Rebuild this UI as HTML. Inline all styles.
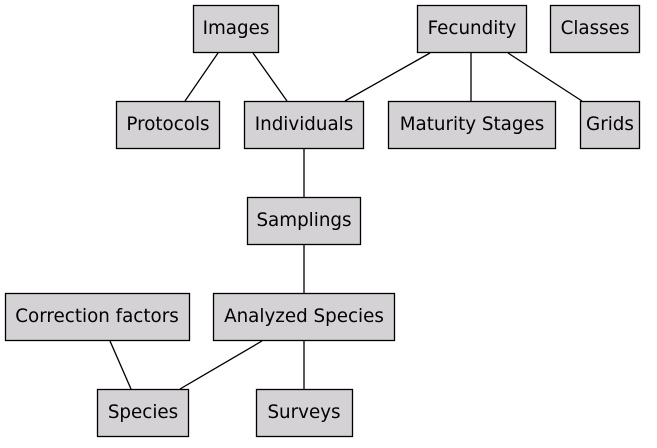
<!DOCTYPE html>
<html><head><style>
body{margin:0;width:657px;height:443px;background:#fff;overflow:hidden}
</style></head><body>
<svg width="657" height="443" xmlns="http://www.w3.org/2000/svg" font-family="DejaVu Sans, sans-serif" font-size="18.3">
<g stroke="#000" stroke-width="1.3">
<line x1="218" y1="53" x2="185" y2="101"/>
<line x1="253" y1="53" x2="287" y2="101"/>
<line x1="430" y1="53" x2="345" y2="101"/>
<line x1="471" y1="53" x2="471" y2="101"/>
<line x1="508" y1="53" x2="582" y2="101"/>
<line x1="304" y1="149" x2="304" y2="197"/>
<line x1="304" y1="245" x2="304" y2="293"/>
<line x1="110" y1="341" x2="131" y2="389"/>
<line x1="262" y1="341" x2="180" y2="389"/>
<line x1="304" y1="341" x2="304" y2="389"/>
</g>
<g fill="#d4d2d4" stroke="#000" stroke-width="1.3">
<rect x="193.5" y="5.5" width="85" height="47"/>
<rect x="417.5" y="5.5" width="109" height="47"/>
<rect x="550.5" y="5.5" width="89" height="47"/>
<rect x="116.5" y="101.5" width="103" height="47"/>
<rect x="244.5" y="101.5" width="119" height="47"/>
<rect x="388.5" y="101.5" width="167" height="47"/>
<rect x="580.5" y="101.5" width="59" height="47"/>
<rect x="247.5" y="197.5" width="113" height="47"/>
<rect x="5.5" y="293.5" width="184" height="47"/>
<rect x="213.5" y="293.5" width="181" height="47"/>
<rect x="97.5" y="389.5" width="91" height="47"/>
<rect x="256.5" y="389.5" width="96" height="47"/>
</g>
<g fill="#000" text-anchor="middle">
<text x="236" y="34">Images</text>
<text x="472" y="34">Fecundity</text>
<text x="595" y="34">Classes</text>
<text x="168" y="130">Protocols</text>
<text x="304" y="130">Individuals</text>
<text x="472" y="130">Maturity Stages</text>
<text x="610" y="130">Grids</text>
<text x="304" y="226">Samplings</text>
<text x="97" y="322">Correction factors</text>
<text x="304" y="322">Analyzed Species</text>
<text x="143" y="418">Species</text>
<text x="304" y="418">Surveys</text>
</g>
</svg>
</body></html>
